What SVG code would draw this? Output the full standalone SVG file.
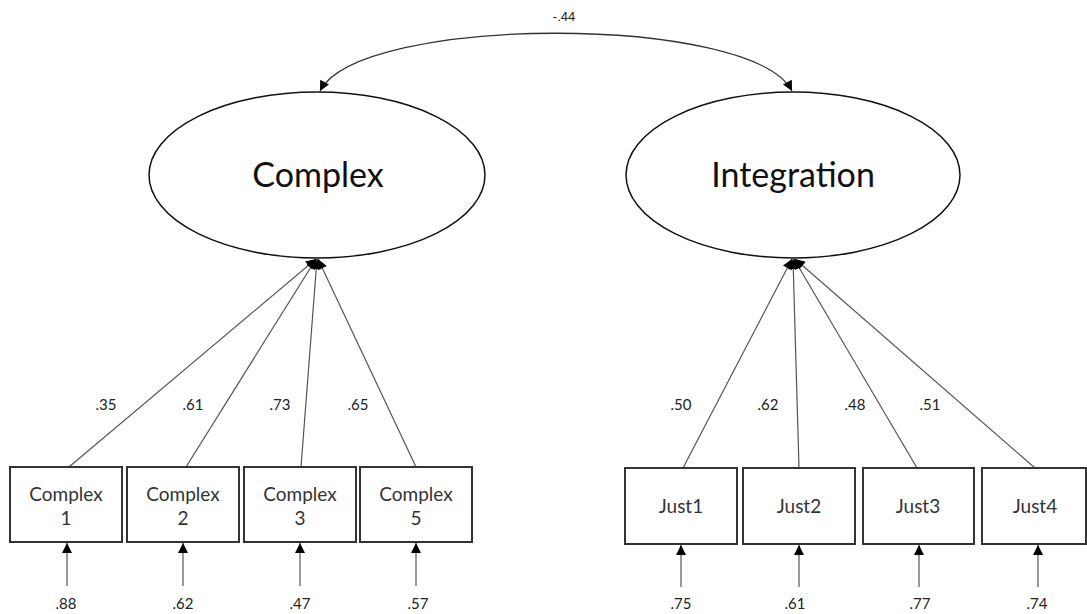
<svg xmlns="http://www.w3.org/2000/svg" width="1087" height="614" viewBox="0 0 1087 614">
  <style>
    .latent { fill: #ffffff; stroke: #111111; stroke-width: 1.5; }
    .latent-label { font-family: Lato, "Open Sans", sans-serif; font-size: 34px; fill: #111111; text-anchor: middle; }
    .obs { fill: #ffffff; stroke: #333333; stroke-width: 2; }
    .obs-label { font-family: Lato, "Open Sans", sans-serif; font-size: 19px; fill: #333333; text-anchor: middle; }
    .path { fill: none; stroke: #555555; stroke-width: 1.2; }
    .cov { fill: none; stroke: #333333; stroke-width: 1.3; }
    .coef { font-family: Lato, "Open Sans", sans-serif; font-size: 15px; fill: #222222; text-anchor: middle; }
    .cov-label { font-family: "Liberation Sans", sans-serif; font-size: 13px; fill: #222222; text-anchor: middle; }
  </style>
  <defs>
    <marker id="head" viewBox="0 0 10 10" refX="10" refY="5" markerWidth="12" markerHeight="10" markerUnits="userSpaceOnUse" orient="auto-start-reverse">
      <path d="M0,0 L10,5 L0,10 z" fill="#000000"/>
    </marker>
  </defs>

  <rect width="1087" height="614" fill="#ffffff"/>

  <!-- paths: covariance, loadings, residuals -->
  <g id="connectors">
    <path class="cov" d="M320,91 C360,14 752,14 792,91" marker-start="url(#head)" marker-end="url(#head)"/>

    <line class="path" x1="69" y1="467" x2="316" y2="259" marker-end="url(#head)"/>
    <line class="path" x1="186" y1="467" x2="316" y2="259" marker-end="url(#head)"/>
    <line class="path" x1="301" y1="467" x2="317" y2="259" marker-end="url(#head)"/>
    <line class="path" x1="416" y1="467" x2="318" y2="259" marker-end="url(#head)"/>

    <line class="path" x1="683" y1="468" x2="792" y2="259" marker-end="url(#head)"/>
    <line class="path" x1="799" y1="468" x2="793" y2="259" marker-end="url(#head)"/>
    <line class="path" x1="917" y1="468" x2="794" y2="259" marker-end="url(#head)"/>
    <line class="path" x1="1035" y1="468" x2="795" y2="259" marker-end="url(#head)"/>

    <line class="path" x1="67" y1="586" x2="67" y2="543" marker-end="url(#head)"/>
    <line class="path" x1="183" y1="586" x2="183" y2="543" marker-end="url(#head)"/>
    <line class="path" x1="300" y1="586" x2="300" y2="543" marker-end="url(#head)"/>
    <line class="path" x1="416" y1="586" x2="416" y2="543" marker-end="url(#head)"/>

    <line class="path" x1="681" y1="587" x2="681" y2="545" marker-end="url(#head)"/>
    <line class="path" x1="799" y1="587" x2="799" y2="545" marker-end="url(#head)"/>
    <line class="path" x1="919" y1="587" x2="919" y2="545" marker-end="url(#head)"/>
    <line class="path" x1="1038" y1="587" x2="1038" y2="545" marker-end="url(#head)"/>
  </g>

  <!-- coefficients -->
  <g id="coefficients">
    <text class="cov-label" x="564" y="21">-.44</text>
    <text class="coef" x="106" y="410">.35</text>
    <text class="coef" x="193" y="410">.61</text>
    <text class="coef" x="280" y="410">.73</text>
    <text class="coef" x="358" y="410">.65</text>
    <text class="coef" x="681" y="410">.50</text>
    <text class="coef" x="768" y="410">.62</text>
    <text class="coef" x="855" y="410">.48</text>
    <text class="coef" x="930" y="410">.51</text>

    <text class="coef" x="66" y="609">.88</text>
    <text class="coef" x="183" y="609">.62</text>
    <text class="coef" x="300" y="609">.47</text>
    <text class="coef" x="418" y="609">.57</text>
    <text class="coef" x="681" y="609">.75</text>
    <text class="coef" x="795" y="609">.61</text>
    <text class="coef" x="920" y="609">.77</text>
    <text class="coef" x="1037" y="609">.74</text>
  </g>

  <g id="latent-complex">
    <ellipse class="latent" cx="317" cy="175" rx="168" ry="83"/>
    <text class="latent-label" x="318" y="187">Complex</text>
  </g>
  <g id="latent-integration">
    <ellipse class="latent" cx="793" cy="175" rx="167" ry="83"/>
    <text class="latent-label" x="793" y="187">Integration</text>
  </g>

  <g id="obs-complex1">
    <rect class="obs" x="10" y="467" width="112" height="75"/>
    <text class="obs-label" x="66" y="501">Complex</text>
    <text class="obs-label" x="66" y="525">1</text>
  </g>
  <g id="obs-complex2">
    <rect class="obs" x="127" y="467" width="112" height="75"/>
    <text class="obs-label" x="183" y="501">Complex</text>
    <text class="obs-label" x="183" y="525">2</text>
  </g>
  <g id="obs-complex3">
    <rect class="obs" x="244" y="467" width="112" height="75"/>
    <text class="obs-label" x="300" y="501">Complex</text>
    <text class="obs-label" x="300" y="525">3</text>
  </g>
  <g id="obs-complex5">
    <rect class="obs" x="360" y="467" width="112" height="75"/>
    <text class="obs-label" x="416" y="501">Complex</text>
    <text class="obs-label" x="416" y="525">5</text>
  </g>

  <g id="obs-just1">
    <rect class="obs" x="625" y="468" width="112" height="76"/>
    <text class="obs-label" x="681" y="513">Just1</text>
  </g>
  <g id="obs-just2">
    <rect class="obs" x="743" y="468" width="112" height="76"/>
    <text class="obs-label" x="799" y="513">Just2</text>
  </g>
  <g id="obs-just3">
    <rect class="obs" x="863" y="468" width="111" height="76"/>
    <text class="obs-label" x="918" y="513">Just3</text>
  </g>
  <g id="obs-just4">
    <rect class="obs" x="982" y="468" width="104" height="76"/>
    <text class="obs-label" x="1035" y="513">Just4</text>
  </g>
</svg>
